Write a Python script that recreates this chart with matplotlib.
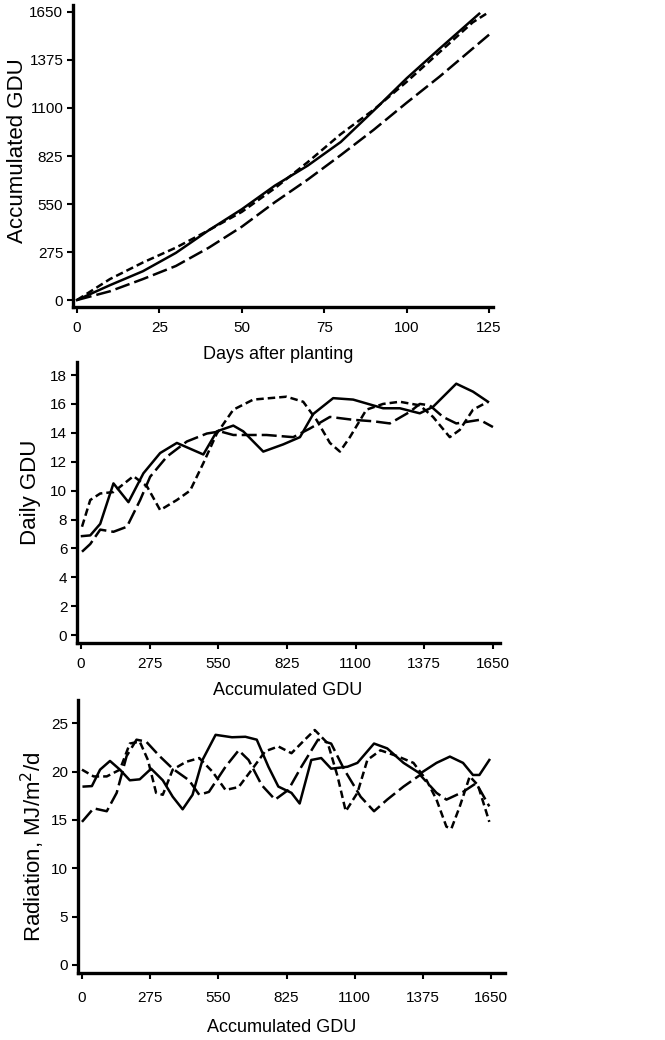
import numpy as np
import matplotlib
matplotlib.use("Agg")
import matplotlib.pyplot as plt
from matplotlib import font_manager

plt.rcParams['font.family'] = ['Liberation Sans', 'DejaVu Sans']

#### data ####

# top panel: accumulated GDU vs days after planting
solid_days = [0, 10, 20, 30, 40, 50, 60, 70, 80, 90, 100, 110, 122]
solid_acc = [0, 85, 165, 270, 400, 520, 655, 770, 905, 1085, 1270, 1440, 1640]
short_days = [0, 10, 20, 30, 40, 50, 60, 70, 80, 90, 100, 110, 120, 125]
short_acc = [0, 120, 215, 300, 400, 505, 640, 790, 950, 1090, 1250, 1420, 1590, 1650]
long_days = [0, 10, 20, 30, 40, 50, 60, 70, 80, 90, 100, 110, 120, 125]
long_acc = [0, 50, 120, 195, 300, 420, 560, 690, 830, 975, 1130, 1280, 1440, 1520]

# middle panel: daily GDU vs accumulated GDU
d_solid_x = [4, 37, 77, 130, 190, 250, 317, 384, 437, 490, 544, 610, 650, 730, 810,
             877, 930, 1010, 1090, 1210, 1277, 1357, 1410, 1503, 1570, 1630]
d_solid_y = [6.85, 6.9, 7.7, 10.5, 9.2, 11.2, 12.6, 13.3, 12.9, 12.5, 14.1, 14.5, 14.1,
             12.7, 13.2, 13.7, 15.3, 16.4, 16.3, 15.7, 15.7, 15.35, 15.8, 17.4, 16.85, 16.15]
d_short_x = [4, 37, 77, 130, 210, 264, 317, 384, 437, 490, 544, 610, 690, 823, 890,
             943, 997, 1037, 1077, 1143, 1210, 1277, 1357, 1410, 1477, 1517, 1570, 1630]
d_short_y = [7.5, 9.35, 9.8, 9.9, 11.0, 10.3, 8.65, 9.35, 10.0, 11.9, 13.95, 15.6, 16.3,
             16.5, 16.15, 14.9, 13.3, 12.7, 13.7, 15.6, 16.0, 16.15, 15.9, 15.1, 13.7,
             14.2, 15.6, 16.15]
d_long_x = [4, 37, 77, 130, 184, 237, 277, 344, 424, 504, 557, 610, 743, 850, 917,
            997, 1090, 1170, 1237, 1317, 1357, 1397, 1450, 1503, 1543, 1597, 1650]
d_long_y = [5.77, 6.3, 7.3, 7.15, 7.5, 9.35, 10.96, 12.35, 13.4, 13.95, 14.1, 13.85,
            13.85, 13.7, 14.3, 15.1, 14.9, 14.8, 14.65, 15.45, 16.0, 15.9, 15.1, 14.65,
            14.75, 14.9, 14.4]

# bottom panel: radiation vs accumulated GDU
r_solid_x = [7, 40, 73, 113, 153, 193, 233, 279, 326, 366, 406, 446, 486, 539, 605,
             659, 705, 752, 792, 845, 878, 925, 965, 1005, 1071, 1111, 1178, 1231,
             1297, 1364, 1430, 1484, 1537, 1577, 1603, 1643]
r_solid_y = [18.45, 18.5, 20.2, 21.1, 20.2, 19.1, 19.2, 20.3, 19.1, 17.4, 16.1, 17.6,
             21.2, 23.8, 23.55, 23.6, 23.3, 20.5, 18.45, 17.8, 16.7, 21.2, 21.4, 20.3,
             20.5, 20.9, 22.9, 22.4, 20.9, 19.8, 20.9, 21.55, 20.9, 19.65, 19.65, 21.2]
r_short_x = [0, 47, 100, 153, 193, 233, 266, 299, 326, 366, 419, 473, 526, 579, 632,
             685, 739, 792, 845, 899, 939, 992, 1031, 1064, 1111, 1151, 1204, 1271,
             1337, 1390, 1430, 1470, 1490, 1524, 1564, 1597, 1643]
r_short_y = [20.2, 19.5, 19.5, 20.2, 22.9, 23.1, 21.2, 17.8, 17.6, 20.2, 21.0, 21.4,
             20.0, 18.1, 18.4, 20.2, 22.1, 22.6, 21.9, 23.3, 24.3, 22.9, 19.5, 15.9,
             17.8, 21.2, 22.2, 21.6, 20.9, 19.1, 17.1, 14.3, 14.1, 16.4, 19.5, 18.6, 14.8]
r_long_x = [0, 47, 100, 140, 180, 220, 259, 313, 366, 432, 473, 512, 579, 632, 672,
            725, 779, 832, 885, 952, 1005, 1058, 1124, 1178, 1231, 1297, 1364, 1430,
            1470, 1537, 1590, 1643]
r_long_y = [14.8, 16.2, 15.9, 17.8, 21.6, 23.3, 23.1, 21.6, 20.3, 19.1, 17.6, 17.9,
            20.5, 22.2, 21.2, 18.6, 17.1, 18.1, 20.5, 23.3, 22.9, 20.2, 17.4, 15.9,
            17.1, 18.45, 19.65, 17.8, 17.1, 17.9, 18.8, 16.4]

gdu_ticks = [0, 275, 550, 825, 1100, 1375, 1650]

#### figure ####

fig = plt.figure(figsize=(6.65, 10.4), dpi=100)
ax1 = fig.add_axes([0.1098, 0.7048, 0.6316, 0.2904])
ax2 = fig.add_axes([0.1158, 0.3817, 0.6360, 0.2702])
ax3 = fig.add_axes([0.1173, 0.0644, 0.6420, 0.2625])

lw = 1.8
short_dash = (0, (3, 1.6))
long_dash = (0, (6, 2))

ax1.plot(solid_days, solid_acc, color="black", lw=lw)
ax1.plot(short_days, short_acc, color="black", lw=lw, linestyle=short_dash)
ax1.plot(long_days, long_acc, color="black", lw=lw, linestyle=long_dash)

ax2.plot(d_solid_x, d_solid_y, color="black", lw=lw)
ax2.plot(d_short_x, d_short_y, color="black", lw=lw, linestyle=short_dash)
ax2.plot(d_long_x, d_long_y, color="black", lw=lw, linestyle=long_dash)

ax3.plot(r_solid_x, r_solid_y, color="black", lw=lw)
ax3.plot(r_short_x, r_short_y, color="black", lw=lw, linestyle=short_dash)
ax3.plot(r_long_x, r_long_y, color="black", lw=lw, linestyle=long_dash)

ax1.set_xlim(-1.2, 126.2)
ax1.set_ylim(-40, 1690)
ax1.set_xticks([0, 25, 50, 75, 100, 125])
ax1.set_yticks([0, 275, 550, 825, 1100, 1375, 1650])

ax2.set_xlim(-16, 1678)
ax2.set_ylim(-0.55, 18.9)
ax2.set_xticks(gdu_ticks)
ax2.set_yticks(range(0, 19, 2))

ax3.set_xlim(-16, 1706)
ax3.set_ylim(-0.83, 27.4)
ax3.set_xticks(gdu_ticks)
ax3.set_yticks(range(0, 26, 5))

# narrow face for the tick numbers if it is there
names = {f.name for f in font_manager.fontManager.ttflist}
tick_family = ['Liberation Sans Narrow'] if 'Liberation Sans Narrow' in names else ['Liberation Sans']
tick_size = 12 if 'Liberation Sans Narrow' in names else 11

for ax, xpad in [(ax1, 6), (ax2, 6), (ax3, 9)]:
    # transparent panels so labels near the next panel are not hidden
    ax.patch.set_visible(False)
    ax.spines["top"].set_visible(False)
    ax.spines["right"].set_visible(False)
    ax.spines["left"].set_linewidth(2.4)
    ax.spines["bottom"].set_linewidth(2.4)
    ax.tick_params(direction="out", length=4, width=1.5, labelsize=tick_size, pad=3)
    ax.tick_params(axis="x", pad=xpad)
    for lab in ax.get_xticklabels() + ax.get_yticklabels():
        lab.set_family(tick_family)

ax1.set_ylabel("Accumulated GDU", fontsize=16)
ax1.yaxis.set_label_coords(-0.107, 0.517)
ax1.set_xlabel("Days after planting", fontsize=13)
ax1.xaxis.set_label_coords(0.488, -0.13)

ax2.set_ylabel("Daily GDU", fontsize=16)
ax2.yaxis.set_label_coords(-0.085, 0.537)
ax2.set_xlabel("Accumulated GDU", fontsize=13)
ax2.xaxis.set_label_coords(0.499, -0.14)

ax3.set_ylabel(r"Radiation, MJ/m$^2$/d", fontsize=16)
ax3.yaxis.set_label_coords(-0.0726, 0.4615)
ax3.set_xlabel("Accumulated GDU", fontsize=13)
ax3.xaxis.set_label_coords(0.478, -0.17)

fig.savefig("out.png", dpi=100)
